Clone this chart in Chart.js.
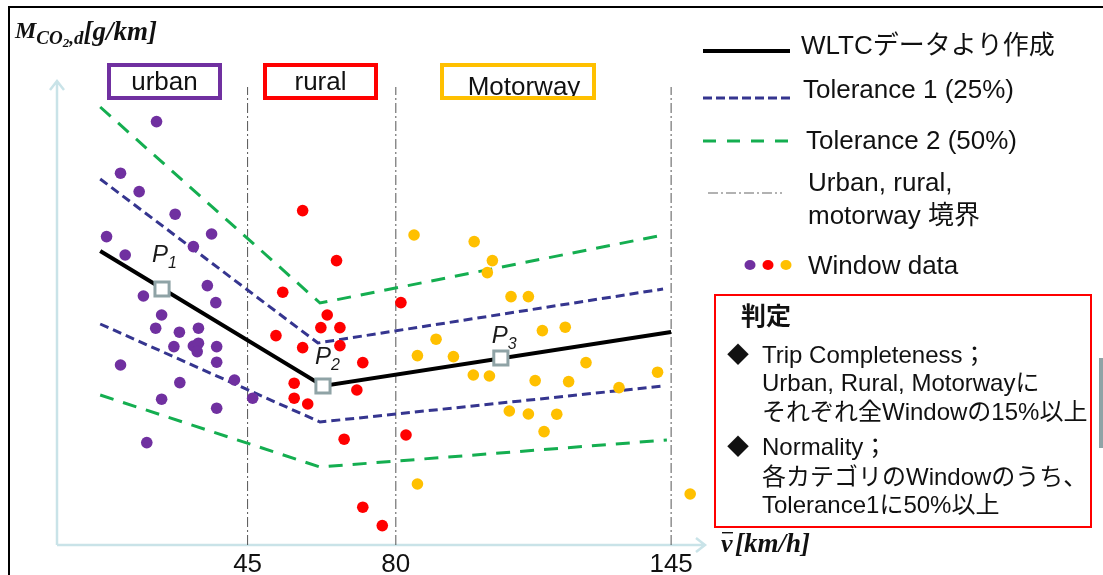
<!DOCTYPE html>
<html>
<head>
<meta charset="utf-8">
<script src="https://cdn.jsdelivr.net/npm/chart.js@4.4.1/dist/chart.umd.min.js"></script>
<style>
  body { margin: 0; background: #fff; }
  canvas { display: block; }
</style>
</head>
<body>
<canvas id="rdeChart" width="1103" height="575"></canvas>
<script>
// axis ticks (km/h) and zone borders
const xTicks = [45, 80, 145];
const zoneLimits = [45, 80, 145];
const zoneNames = ['urban', 'rural', 'Motorway'];

// WLTC reference line and tolerance bands (x: km/h, y: g/km)
const wltcX = [10.2, 62.8, 145];
const wltcY = [147, 79.5, 106.5];
const tol1UpperX = [10.2, 61.6, 143.1];
const tol1UpperY = [183, 101, 128];
const tol1LowerX = [10.2, 62.1, 143.1];
const tol1LowerY = [110.5, 61.5, 79.5];
const tol2UpperX = [10.2, 62.1, 143.1];
const tol2UpperY = [219, 121, 155];
const tol2LowerX = [10.2, 62.1, 144];
const tol2LowerY = [75, 39, 52.5];

// characteristic points P1..P3
const pNames = ['1', '2', '3'];
const pX = [24.8, 62.8, 104.8];
const pY = [128, 79.5, 93.5];

// window data
const urbanX = [23.5, 15.0, 19.4, 27.9, 11.7, 36.5, 16.1, 32.2, 20.4, 35.5, 37.5, 24.7, 23.3, 28.9,
  33.4, 27.6, 32.2, 33.4, 33.1, 37.7, 37.7, 15.0, 41.9, 29.0, 46.2, 24.7, 37.7, 21.2];
const urbanY = [211.7, 185.9, 176.7, 165.4, 154.2, 155.5, 145, 149.2, 124.5, 129.7, 121.2, 115, 108.4, 106.4,
  108.4, 99.2, 99.5, 100.9, 96.7, 99.2, 91.4, 90, 82.5, 81.2, 73.4, 72.9, 68.4, 51.2];
const ruralX = [58.0, 66.0, 53.3, 81.2, 63.8, 62.3, 66.8, 51.7, 58.0, 66.8, 72.2, 56.0, 70.8, 56.0,
  59.2, 82.4, 67.8, 72.2, 76.8];
const ruralY = [167.2, 142.2, 126.4, 121.2, 115, 108.7, 108.7, 104.7, 98.7, 99.7, 91.2, 80.9, 77.5, 73.4,
  70.5, 55, 52.9, 18.9, 9.7];
const motorwayX = [84.3, 98.5, 102.8, 101.6, 107.2, 111.3, 114.6, 120.0, 89.5, 85.1, 93.6, 124.9, 98.3, 102.1,
  112.9, 120.8, 132.7, 141.8, 106.8, 111.3, 118.0, 115.0, 85.1, 149.5];
const motorwayY = [155, 151.7, 142.2, 136.2, 124.2, 124.2, 107.2, 108.9, 102.9, 94.7, 94.2, 91.2, 85, 84.5,
  82.2, 81.7, 78.7, 86.4, 67, 65.5, 65.4, 56.7, 30.5, 25.5];

// legend and notes
const legendLabels = ['WLTCデータより作成', 'Tolerance 1 (25%)', 'Tolerance 2 (50%)',
  ['Urban, rural,', 'motorway 境界'], 'Window data'];
const noteTitle = '判定';
const noteLines = [
  ['◆', 'Trip Completeness；'],
  ['', 'Urban, Rural, Motorwayに'],
  ['', 'それぞれ全Windowの15%以上'],
  ['◆', 'Normality；'],
  ['', '各カテゴリのWindowのうち、'],
  ['', 'Tolerance1に50%以上']
];

const PURPLE = '#7030A0', RED = '#FF0000', ORANGE = '#FFC000';
const BLUE = '#35358F', GREEN = '#14AE50', GRAY = '#555555';
const AXIS = '#C9E3E8';
const SANS = '"Liberation Sans", "Noto Sans CJK JP", sans-serif';
const SERIF = '"Liberation Serif", "DejaVu Serif", serif';

const pts = (xs, ys) => xs.map((x, i) => ({ x: x, y: ys[i] }));

function lineSet(xs, ys, color, width, dash, order) {
  return {
    data: pts(xs, ys), showLine: true, borderColor: color, borderWidth: width,
    borderDash: dash, pointRadius: 0, fill: false, order: order
  };
}

function dotSet(xs, ys, color) {
  return {
    data: pts(xs, ys), backgroundColor: color, borderWidth: 0,
    pointRadius: 5.8, pointHoverRadius: 5.8, order: 2
  };
}

const datasets = [
  lineSet(wltcX, wltcY, '#000', 4, [], 1),
  lineSet(tol1UpperX, tol1UpperY, BLUE, 3, [9, 5], 3),
  lineSet(tol1LowerX, tol1LowerY, BLUE, 3, [9, 5], 3),
  lineSet(tol2UpperX, tol2UpperY, GREEN, 3, [14, 10], 3),
  lineSet(tol2LowerX, tol2LowerY, GREEN, 3, [14, 10], 3)
];
zoneLimits.forEach(v => {
  datasets.push(lineSet([v, v], [0, 229], GRAY, 1, [10, 3, 2, 3], 4));
});
datasets.push(dotSet(urbanX, urbanY, PURPLE));
datasets.push(dotSet(ruralX, ruralY, RED));
datasets.push(dotSet(motorwayX, motorwayY, ORANGE));
datasets.push({
  data: pts(pX, pY), pointStyle: 'rect', pointRadius: 10, pointHoverRadius: 10,
  backgroundColor: '#fff', borderColor: '#8FA3A6', borderWidth: 3, order: 0
});
const pIndex = datasets.length - 1;

function dashLine(ctx, x1, x2, y, color, width, dash) {
  ctx.save();
  ctx.strokeStyle = color;
  ctx.lineWidth = width;
  ctx.setLineDash(dash);
  ctx.beginPath();
  ctx.moveTo(x1, y);
  ctx.lineTo(x2, y);
  ctx.stroke();
  ctx.restore();
}

// draws a run of [text, font, dy] pieces one after another
function textRun(ctx, x, y, parts) {
  parts.forEach(p => {
    ctx.font = p[1];
    ctx.fillText(p[0], x, y + p[2]);
    x += ctx.measureText(p[0]).width;
  });
  return x;
}

const decorations = {
  id: 'decorations',
  beforeDraw(chart) {
    const ctx = chart.ctx;
    ctx.save();
    ctx.fillStyle = '#fff';
    ctx.fillRect(0, 0, chart.width, chart.height);
    // frame
    ctx.fillStyle = '#000';
    ctx.fillRect(9, 6, chart.width - 9, 2);
    ctx.fillRect(8, 6, 2, chart.height - 6);
    ctx.fillStyle = '#8FA3A6';
    ctx.fillRect(1099, 358, 4, 90);
    ctx.restore();
  },
  beforeDatasetsDraw(chart) {
    const ctx = chart.ctx;
    const xs = chart.scales.x, ys = chart.scales.y;
    const x0 = xs.getPixelForValue(0), y0 = ys.getPixelForValue(0);
    const top = ys.getPixelForValue(ys.max), right = xs.getPixelForValue(xs.max);
    ctx.save();
    ctx.strokeStyle = AXIS;
    ctx.lineWidth = 2.5;
    ctx.beginPath();
    ctx.moveTo(x0, y0); ctx.lineTo(x0, top);
    ctx.moveTo(x0 - 7, top + 9); ctx.lineTo(x0, top); ctx.lineTo(x0 + 7, top + 9);
    ctx.moveTo(x0, y0); ctx.lineTo(right, y0);
    ctx.moveTo(right - 9, y0 - 7); ctx.lineTo(right, y0); ctx.lineTo(right - 9, y0 + 7);
    ctx.stroke();
    ctx.restore();
  },
  afterDraw(chart) {
    const ctx = chart.ctx;
    ctx.save();

    // axis titles
    ctx.fillStyle = '#111';
    ctx.textBaseline = 'alphabetic';
    ctx.textAlign = 'left';
    const bi = s => 'bold italic ' + s + 'px ' + SERIF;
    textRun(ctx, 15, 38, [['M', bi(24), 0], ['CO', bi(19), 6], ['2', bi(13), 9], [',d', bi(19), 6],
      ['[g/km]', bi(27), 2]]);

    ctx.font = bi(26);
    ctx.fillText('v', 721, 552);
    ctx.fillRect(722, 532, 11, 1.4);
    textRun(ctx, 735, 552, [['[km/h]', bi(27), 0]]);

    // zone boxes
    const zoneBoxes = [[109, 65, 111, 33, PURPLE], [265, 65, 111, 33, RED], [442, 65, 152, 33, ORANGE]];
    zoneNames.forEach((name, i) => {
      const b = zoneBoxes[i];
      ctx.save();
      ctx.strokeStyle = b[4];
      ctx.lineWidth = 4;
      ctx.strokeRect(b[0], b[1], b[2], b[3]);
      ctx.beginPath();
      ctx.rect(b[0] + 2, b[1] + 2, b[2] - 4, b[3] - 4);
      ctx.clip();
      ctx.fillStyle = '#111';
      ctx.font = '26px ' + SANS;
      ctx.textAlign = 'center';
      ctx.fillText(name, i === 2 ? 524 : b[0] + b[2] / 2, i === 2 ? 95 : 90);
      ctx.restore();
    });

    // P labels
    const meta = chart.getDatasetMeta(pIndex);
    const pOffsets = [[-10, -27], [-8, -22], [-9, -15]];
    meta.data.forEach((el, i) => {
      const px = el.x + pOffsets[i][0], py = el.y + pOffsets[i][1];
      ctx.fillStyle = '#1a1a1a';
      textRun(ctx, px, py, [['P', 'italic 24px ' + SANS, 0], [pNames[i], 'italic 16px ' + SANS, 6]]);
    });

    // legend
    dashLine(ctx, 703, 790, 51, '#000', 4, []);
    dashLine(ctx, 703, 790, 98, BLUE, 3, [9, 4]);
    dashLine(ctx, 703, 790, 141, GREEN, 3, [13, 11]);
    dashLine(ctx, 708, 782, 193, '#999', 1.5, [10, 3, 2, 3]);
    [PURPLE, RED, ORANGE].forEach((c, i) => {
      ctx.fillStyle = c;
      ctx.beginPath();
      ctx.ellipse(750 + i * 18, 265, 5.5, 5, 0, 0, Math.PI * 2);
      ctx.fill();
    });
    ctx.fillStyle = '#111';
    ctx.font = '26px ' + SANS;
    ctx.textBaseline = 'middle';
    const legendY = [[47], [91], [142], [184], [267]];
    const legendX = [801, 803, 806, 808, 808];
    legendLabels.forEach((lab, i) => {
      const lines = Array.isArray(lab) ? lab : [lab];
      lines.forEach((t, j) => ctx.fillText(t, legendX[i], legendY[i][0] + j * 33));
    });

    // judgement box
    ctx.strokeStyle = RED;
    ctx.lineWidth = 2;
    ctx.strokeRect(715, 295, 376, 232);
    ctx.fillStyle = '#111';
    ctx.font = 'bold 25px ' + SANS;
    ctx.fillText(noteTitle, 741, 318);
    const noteY = [356, 384, 413, 448, 478, 506];
    noteLines.forEach((ln, i) => {
      if (ln[0]) {
        ctx.font = '22px ' + SANS;
        ctx.fillText(ln[0], 727, noteY[i]);
      }
      ctx.font = '24px ' + SANS;
      ctx.fillText(ln[1], 762, noteY[i]);
    });
    ctx.restore();
  }
};

new Chart(document.getElementById('rdeChart'), {
  type: 'scatter',
  data: { datasets: datasets },
  options: {
    responsive: false,
    animation: false,
    devicePixelRatio: 1,
    layout: { padding: { left: 57, top: 81, right: 398, bottom: 0 } },
    plugins: { legend: { display: false }, tooltip: { enabled: false } },
    scales: {
      x: {
        type: 'linear', min: 0, max: 153,
        grid: { display: false, drawTicks: false },
        border: { display: false },
        afterBuildTicks: axis => { axis.ticks = xTicks.map(v => ({ value: v })); },
        afterFit: axis => { axis.height = 30; },
        ticks: { color: '#111', padding: 4, font: { size: 26, family: SANS }, maxRotation: 0 }
      },
      y: {
        type: 'linear', min: 0, max: 232,
        display: false
      }
    }
  },
  plugins: [decorations]
});
</script>
</body>
</html>
